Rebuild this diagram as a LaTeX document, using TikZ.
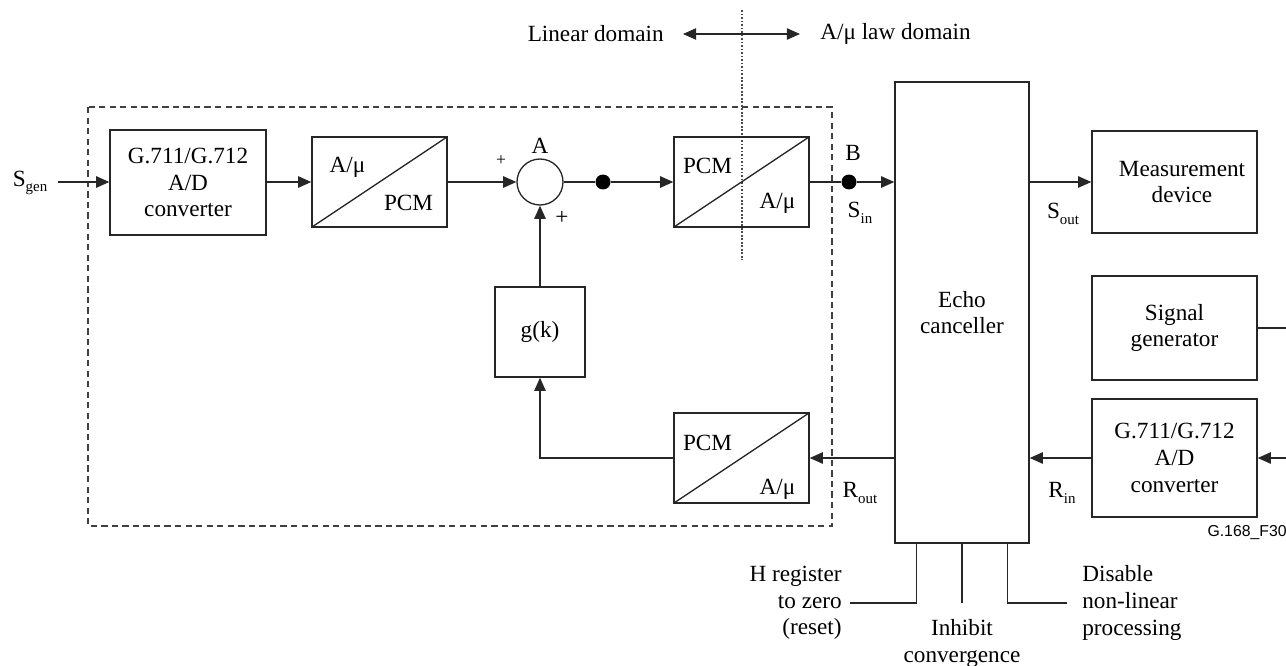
\documentclass[tikz,border=0pt]{standalone}
\usepackage{fontspec}
\setmainfont{Liberation Serif}
\newfontfamily\figsans{Liberation Sans}
\usepackage{tikz}
\usetikzlibrary{positioning}
\usetikzlibrary{calc}
\usetikzlibrary{arrows.meta}

\newcommand{\subtxt}[1]{\raisebox{-0.55ex}{\fontsize{8.5}{9}\selectfont #1}}

\tikzset{
  every node/.style={font=\fontsize{13.2}{15.2}\selectfont, text=black},
  block/.style={draw=black!85, line width=0.8pt, align=center, inner sep=1pt},
  convbox/.style={block, minimum width=2.70cm, minimum height=1.80cm,
    path picture={\draw[line width=0.75pt, black!85]
      (path picture bounding box.south west) -- (path picture bounding box.north east);}},
  sumnode/.style={circle, draw=black!85, line width=0.75pt, minimum size=0.92cm, inner sep=0pt},
  dotnode/.style={circle, fill=black, minimum size=0.30cm, inner sep=0pt},
  sig/.style={line width=0.75pt, black!85, -{Triangle[length=7.5pt,width=6.5pt]}},
  wire/.style={line width=0.75pt, black!85},
  dashbox/.style={line width=0.75pt, black!75, dash pattern=on 3.6pt off 2.4pt},
}

\begin{document}
\begin{tikzpicture}[x=0.02cm, y=-0.02cm]
  \useasboundingbox (0,0) rectangle (1286,666);

  % dashed frame round the test set-up
  \draw[dashbox] (88,107) rectangle (832,526);

  % linear / A-mu law boundary
  \coordinate (dtop) at (742,10);
  \coordinate (dbot) at (742,260);
  \draw[line width=0.8pt, black!70, dash pattern=on 1pt off 1pt] (dtop) -- (dbot);
  \node[anchor=east, inner xsep=0.38cm] (lin) at (683,34) {Linear domain};
  \node[anchor=west, inner xsep=0.40cm] (law) at (800,34) {A/μ law domain};
  \draw[wire, {Triangle[length=7.5pt,width=6.5pt]}-{Triangle[length=7.5pt,width=6.5pt]}] (lin.east) -- (law.west);

  % blocks
  \node[block, minimum width=3.12cm, minimum height=2.10cm] (ad1) at (188,182.5) {G.711/G.712\\A/D\\converter};
  \node[convbox] (alaw) at (379.5,182) {};
  \node at ($(alaw.center)+(-32,-15)$) {A/μ};
  \node at ($(alaw.center)+(29,21)$) {PCM};
  \node[sumnode] (sum) at (540,182) {};
  \node (sumA) at (540,146) {A};
  \node[font=\fontsize{10}{10}\selectfont] (plus1) at (501,161) {+};
  \node (plus2) at (562,218) {+};
  \node[dotnode] (dot1) at (603,182) {};
  \node[convbox] (pcm1) at (741.5,182) {};
  \node at ($(pcm1.center)+(-34,-16)$) {PCM};
  \node at ($(pcm1.center)+(36,21)$) {A/μ};
  \node[dotnode] (dotB) at (849,182) {};
  \node (labB) at (853,153) {B};
  \node (labSin) at (860,213) {S\subtxt{in}};

  \node[block, minimum width=1.80cm, minimum height=1.80cm] (gk) at (540,332) {g(k)};
  \node[convbox] (pcm2) at (741.5,458) {};
  \node at ($(pcm2.center)+(-34,-15)$) {PCM};
  \node at ($(pcm2.center)+(36,31)$) {A/μ};

  \node[block, minimum width=2.68cm, minimum height=9.22cm] (echo) at (962,312.5) {Echo\\canceller};
  \node[block, minimum width=3.30cm, minimum height=2.04cm] (meas) at (1174.5,182) {\hspace*{0.3cm}Measurement\\\hspace*{0.3cm}device};
  \node[block, minimum width=3.30cm, minimum height=2.08cm] (siggen) at (1174.5,328) {Signal\\generator};
  \node[block, minimum width=3.30cm, minimum height=2.36cm] (ad2) at (1174.5,458) {G.711/G.712\\A/D\\converter};

  % signal labels
  \node (labSgen) at (30,183) {S\subtxt{gen}};
  \node (labSout) at (1063,214) {S\subtxt{out}};
  \node (labRin) at (1062,493) {R\subtxt{in}};
  \node (labRout) at (860,493) {R\subtxt{out}};

  % send path
  \coordinate (sgen) at (58,182);
  \draw[sig] (sgen) -- (ad1.west |- sgen);
  \draw[sig] (ad1.east |- alaw.west) -- (alaw.west);
  \draw[sig] (alaw.east) -- (sum.west);
  \draw[wire] (sum.east) -- (dot1);
  \draw[sig] (dot1) -- (pcm1.west);
  \draw[wire] (pcm1.east) -- (dotB);
  \draw[sig] (dotB) -- (dotB -| echo.west);
  \draw[sig] (meas.west -| echo.east) -- (meas.west);

  % receive path
  \coordinate (sgout) at (1286,328);
  \coordinate (rxin) at (1286,458);
  \draw[wire] (siggen.east) -- (sgout);
  \draw[sig] (rxin) -- (rxin -| ad2.east);
  \draw[sig] (ad2.west) -- (ad2.west -| echo.east);
  \draw[sig] (pcm2.east -| echo.west) -- (pcm2.east);
  \draw[sig] (pcm2.west) -| (gk.south);
  \draw[sig] (gk.north) -- (sum.south);

  % control inputs
  \node[anchor=east, align=right, inner xsep=0.16cm] (hreg) at (850,603) {H register\\to zero\\(reset)};
  \node[anchor=north, align=center, inner ysep=0.32cm] (inhib) at (962,603) {Inhibit\\convergence};
  \node[anchor=west, align=left, inner xsep=0.30cm] (nlp) at (1067,603) {Disable\\non-linear\\processing};
  \draw[wire] ($(echo.south west)+(22,0)$) |- (hreg.east);
  \draw[wire] (echo.south) -- (inhib.north);
  \draw[wire] ($(echo.south east)+(-22,0)$) |- (nlp.west);

  \node[anchor=east, inner sep=0pt, font=\figsans\fontsize{9}{10}\selectfont] (figid) at (1287,533) {G.168\_F30};
\end{tikzpicture}
\end{document}
